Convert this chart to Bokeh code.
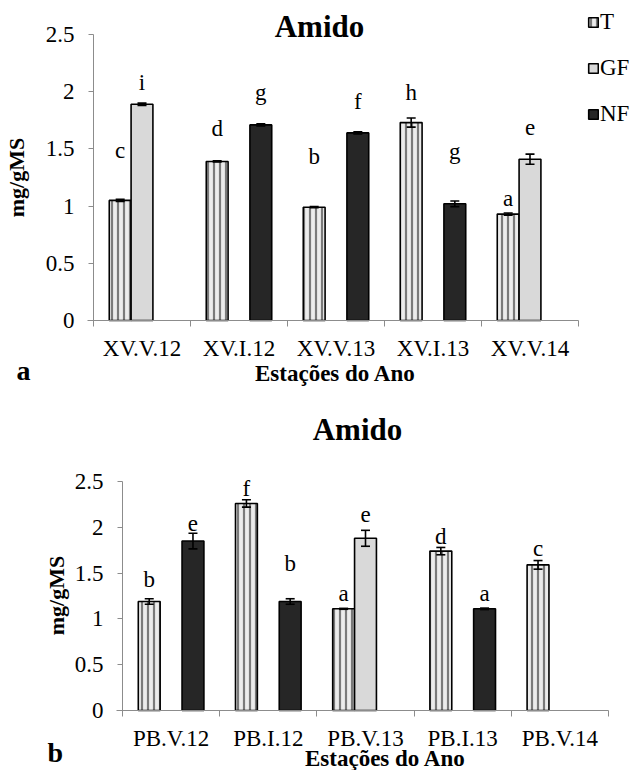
import numpy as np
from bokeh.plotting import figure
from bokeh.layouts import column
from bokeh.models import (ColumnDataSource, FixedTicker, NumeralTickFormatter, Range1d,
                          Whisker, TeeHead, Legend, LegendItem, Label, LinearAxis)
from bokeh.core.properties import value
from bokeh.embed import file_html
from bokeh.resources import INLINE

FONT = "Liberation Serif"

# ---------------- data: chart a ----------------
cats_a = ["XV.V.12", "XV.I.12", "XV.V.13", "XV.I.13", "XV.V.14"]
t_a = [1.05, 1.39, 0.99, 1.73, 0.93]
t_a_err = [0.01, 0.005, 0.005, 0.04, 0.01]
t_a_let = ["c", "d", "b", "h", "a"]
t_a_let_y = [1.49, 1.68, 1.43, 1.99, 1.07]
gf_a = [1.89, None, None, None, 1.41]
gf_a_err = [0.01, None, None, None, 0.044]
gf_a_let = ["i", None, None, None, "e"]
gf_a_let_y = [2.08, None, None, None, 1.69]
nf_a = [None, 1.71, 1.64, 1.02, None]
nf_a_err = [None, 0.01, 0.01, 0.025, None]
nf_a_let = [None, "g", "f", "g", None]
nf_a_let_y = [None, 1.99, 1.91, 1.48, None]

# ---------------- data: chart b ----------------
cats_b = ["PB.V.12", "PB.I.12", "PB.V.13", "PB.I.13", "PB.V.14"]
t_b = [1.19, 2.26, 1.11, 1.74, 1.59]
t_b_err = [0.03, 0.04, 0.005, 0.04, 0.047]
t_b_let = ["b", "f", "a", "d", "c"]
t_b_let_y = [1.435, 2.42, 1.28, 1.90, 1.77]
gf_b = [None, None, 1.88, None, None]
gf_b_err = [None, None, 0.087, None, None]
gf_b_let = [None, None, "e", None, None]
gf_b_let_y = [None, None, 2.14, None, None]
nf_b = [1.85, 1.19, None, 1.11, None]
nf_b_err = [0.085, 0.03, None, 0.008, None]
nf_b_let = ["e", "b", None, "a", None]
nf_b_let_y = [2.04, 1.61, None, 1.28, None]

y_ticks = [0, 0.5, 1, 1.5, 2, 2.5]
y_max = 2.5
series_names = ["T", "GF", "NF"]
title_text = "Amido"
x_title = "Estações do Ano"
y_title = "mg/gMS"

STYLE = {
    "T": dict(fill_color="#ececec", hatch_pattern="vertical_line", hatch_color="#7a7a7a",
              hatch_scale=6, hatch_weight=2.2),
    "GF": dict(fill_color="#d9d9d9"),
    "NF": dict(fill_color="#262626"),
}
OFFSET = {"T": -0.225, "GF": 0.0, "NF": 0.225}
BAR_W = 0.225
AXIS_GRAY = "#8c8c8c"
W = 638


def build(cats, data, H, px_left, px_right, px_zero, px_top, x_tick_standoff,
          title_at, xtitle_at, letter, letter_at, ytitle_at, legend_at=None):
    """px_* are canvas pixel positions (top-left origin) of the plotting area."""
    n = len(cats)
    ux = (px_right - px_left) / n
    uy = (px_zero - px_top) / y_max
    xr = Range1d(0.5 - px_left / ux, 0.5 + (W - px_left) / ux)
    yr = Range1d(-(H - px_zero) / uy, px_zero / uy)
    p = figure(width=W, height=H, x_range=xr, y_range=yr, output_backend="svg",
               toolbar_location=None, x_axis_location=None, y_axis_location=None,
               min_border=0)
    p.outline_line_color = None
    p.grid.visible = False
    p.background_fill_color = "white"
    p.border_fill_color = "white"

    def lab(text, at, size, bold=False, align="center", angle=0.0):
        # 'at' = (x, baseline y) in canvas pixels; drawn with middle baseline
        if angle == 0.0:
            sx, sy = at[0], at[1] - 0.34 * size
        else:
            sx, sy = at
        p.add_layout(Label(x=sx, y=H - sy, x_units="screen", y_units="screen",
                           text=text, text_font=FONT,
                           text_font_style="bold" if bold else "normal",
                           text_font_size=f"{size}px", text_align=align, angle=angle,
                           text_baseline="middle", text_color="black"))

    rends = {}
    for name in series_names:
        vals, errs, lets, lety = data[name]
        idx = [i for i, v in enumerate(vals) if v is not None]
        src = ColumnDataSource(dict(
            x=[i + 1 + OFFSET[name] for i in idx],
            top=[vals[i] for i in idx],
            up=[vals[i] + errs[i] for i in idx],
            lo=[vals[i] - errs[i] for i in idx],
        ))
        r = p.vbar(x="x", top="top", bottom=0, width=BAR_W, source=src,
                   line_color="black", line_width=1.6, **STYLE[name])
        rends[name] = r
        w = Whisker(source=src, base="x", upper="up", lower="lo",
                    line_color="black", line_width=1.6,
                    upper_head=TeeHead(size=9, line_color="black", line_width=1.6),
                    lower_head=TeeHead(size=9, line_color="black", line_width=1.6))
        w.level = "overlay"
        p.add_layout(w)
        lidx = [i for i, l in enumerate(lets) if l is not None]
        lsrc = ColumnDataSource(dict(
            x=[i + 1 + OFFSET[name] for i in lidx],
            y=[lety[i] for i in lidx],
            txt=[lets[i] for i in lidx],
        ))
        p.text(x="x", y="y", text="txt", source=lsrc, text_font=value(FONT),
               text_font_size="23px", text_align="center", text_baseline="alphabetic",
               text_color="black")

    # x axis at y = 0: labels at category centres, ticks at category boundaries
    xa = LinearAxis(fixed_location=0, bounds=(0.5 - 6 / ux, n + 0.5))
    xa.ticker = FixedTicker(ticks=list(range(1, n + 1)),
                            minor_ticks=[i + 0.5 for i in range(0, n + 1)])
    xa.major_label_overrides = {i + 1: c for i, c in enumerate(cats)}
    xa.major_tick_line_color = None
    xa.minor_tick_line_color = AXIS_GRAY
    xa.minor_tick_out = 6
    xa.minor_tick_in = 0
    xa.axis_line_color = AXIS_GRAY
    xa.major_label_text_font = FONT
    xa.major_label_text_font_size = "23px"
    xa.major_label_text_color = "black"
    xa.major_label_standoff = x_tick_standoff
    p.add_layout(xa, "below")

    ya = LinearAxis(fixed_location=0.5, bounds=(0, y_max))
    ya.ticker = FixedTicker(ticks=y_ticks, minor_ticks=[])
    ya.formatter = NumeralTickFormatter(format="0.[0]")
    ya.axis_line_color = AXIS_GRAY
    ya.major_tick_line_color = AXIS_GRAY
    ya.major_tick_out = 5
    ya.major_tick_in = 0
    ya.major_label_text_font = FONT
    ya.major_label_text_font_size = "23px"
    ya.major_label_text_color = "black"
    ya.major_label_standoff = 14
    p.add_layout(ya, "left")

    lab(title_text, title_at, 31, bold=True)
    lab(x_title, xtitle_at, 23, bold=True)
    lab(letter, letter_at, 28, bold=True, align="left")
    lab(y_title, ytitle_at, 22, bold=True, angle=np.pi / 2)

    if legend_at is not None:
        leg = Legend(items=[LegendItem(label=nm, renderers=[rends[nm]]) for nm in series_names],
                     location=(legend_at[0], H - legend_at[1]), orientation="vertical",
                     glyph_width=12, glyph_height=12, label_standoff=1, spacing=20,
                     padding=0, margin=0, border_line_color=None,
                     background_fill_alpha=0, label_text_font=FONT,
                     label_text_font_size="23px", label_text_color="black")
        p.add_layout(leg)
    return p


data_a = {
    "T": (t_a, t_a_err, t_a_let, t_a_let_y),
    "GF": (gf_a, gf_a_err, gf_a_let, gf_a_let_y),
    "NF": (nf_a, nf_a_err, nf_a_let, nf_a_let_y),
}
data_b = {
    "T": (t_b, t_b_err, t_b_let, t_b_let_y),
    "GF": (gf_b, gf_b_err, gf_b_let, gf_b_let_y),
    "NF": (nf_b, nf_b_err, nf_b_let, nf_b_let_y),
}

# top chart: plot area x 93..578, y(2.5)=34, y(0)=320 within a 390 px tall figure
pa = build(cats_a, data_a, 390, 93, 578, 320, 34, 9,
           title_at=(319, 37), xtitle_at=(335, 381), letter="a", letter_at=(16, 380),
           ytitle_at=(16, 177), legend_at=(587, 127))
# bottom chart: plot area x 122..608, y(2.5)=91, y(0)=320 within a 380 px tall figure
pb = build(cats_b, data_b, 380, 122, 608, 320, 91, 9,
           title_at=(357, 50), xtitle_at=(385, 376), letter="b", letter_at=(47, 372),
           ytitle_at=(56, 205))

layout = column(pa, pb, spacing=0)
open("out.html", "w").write(file_html(layout, INLINE))
